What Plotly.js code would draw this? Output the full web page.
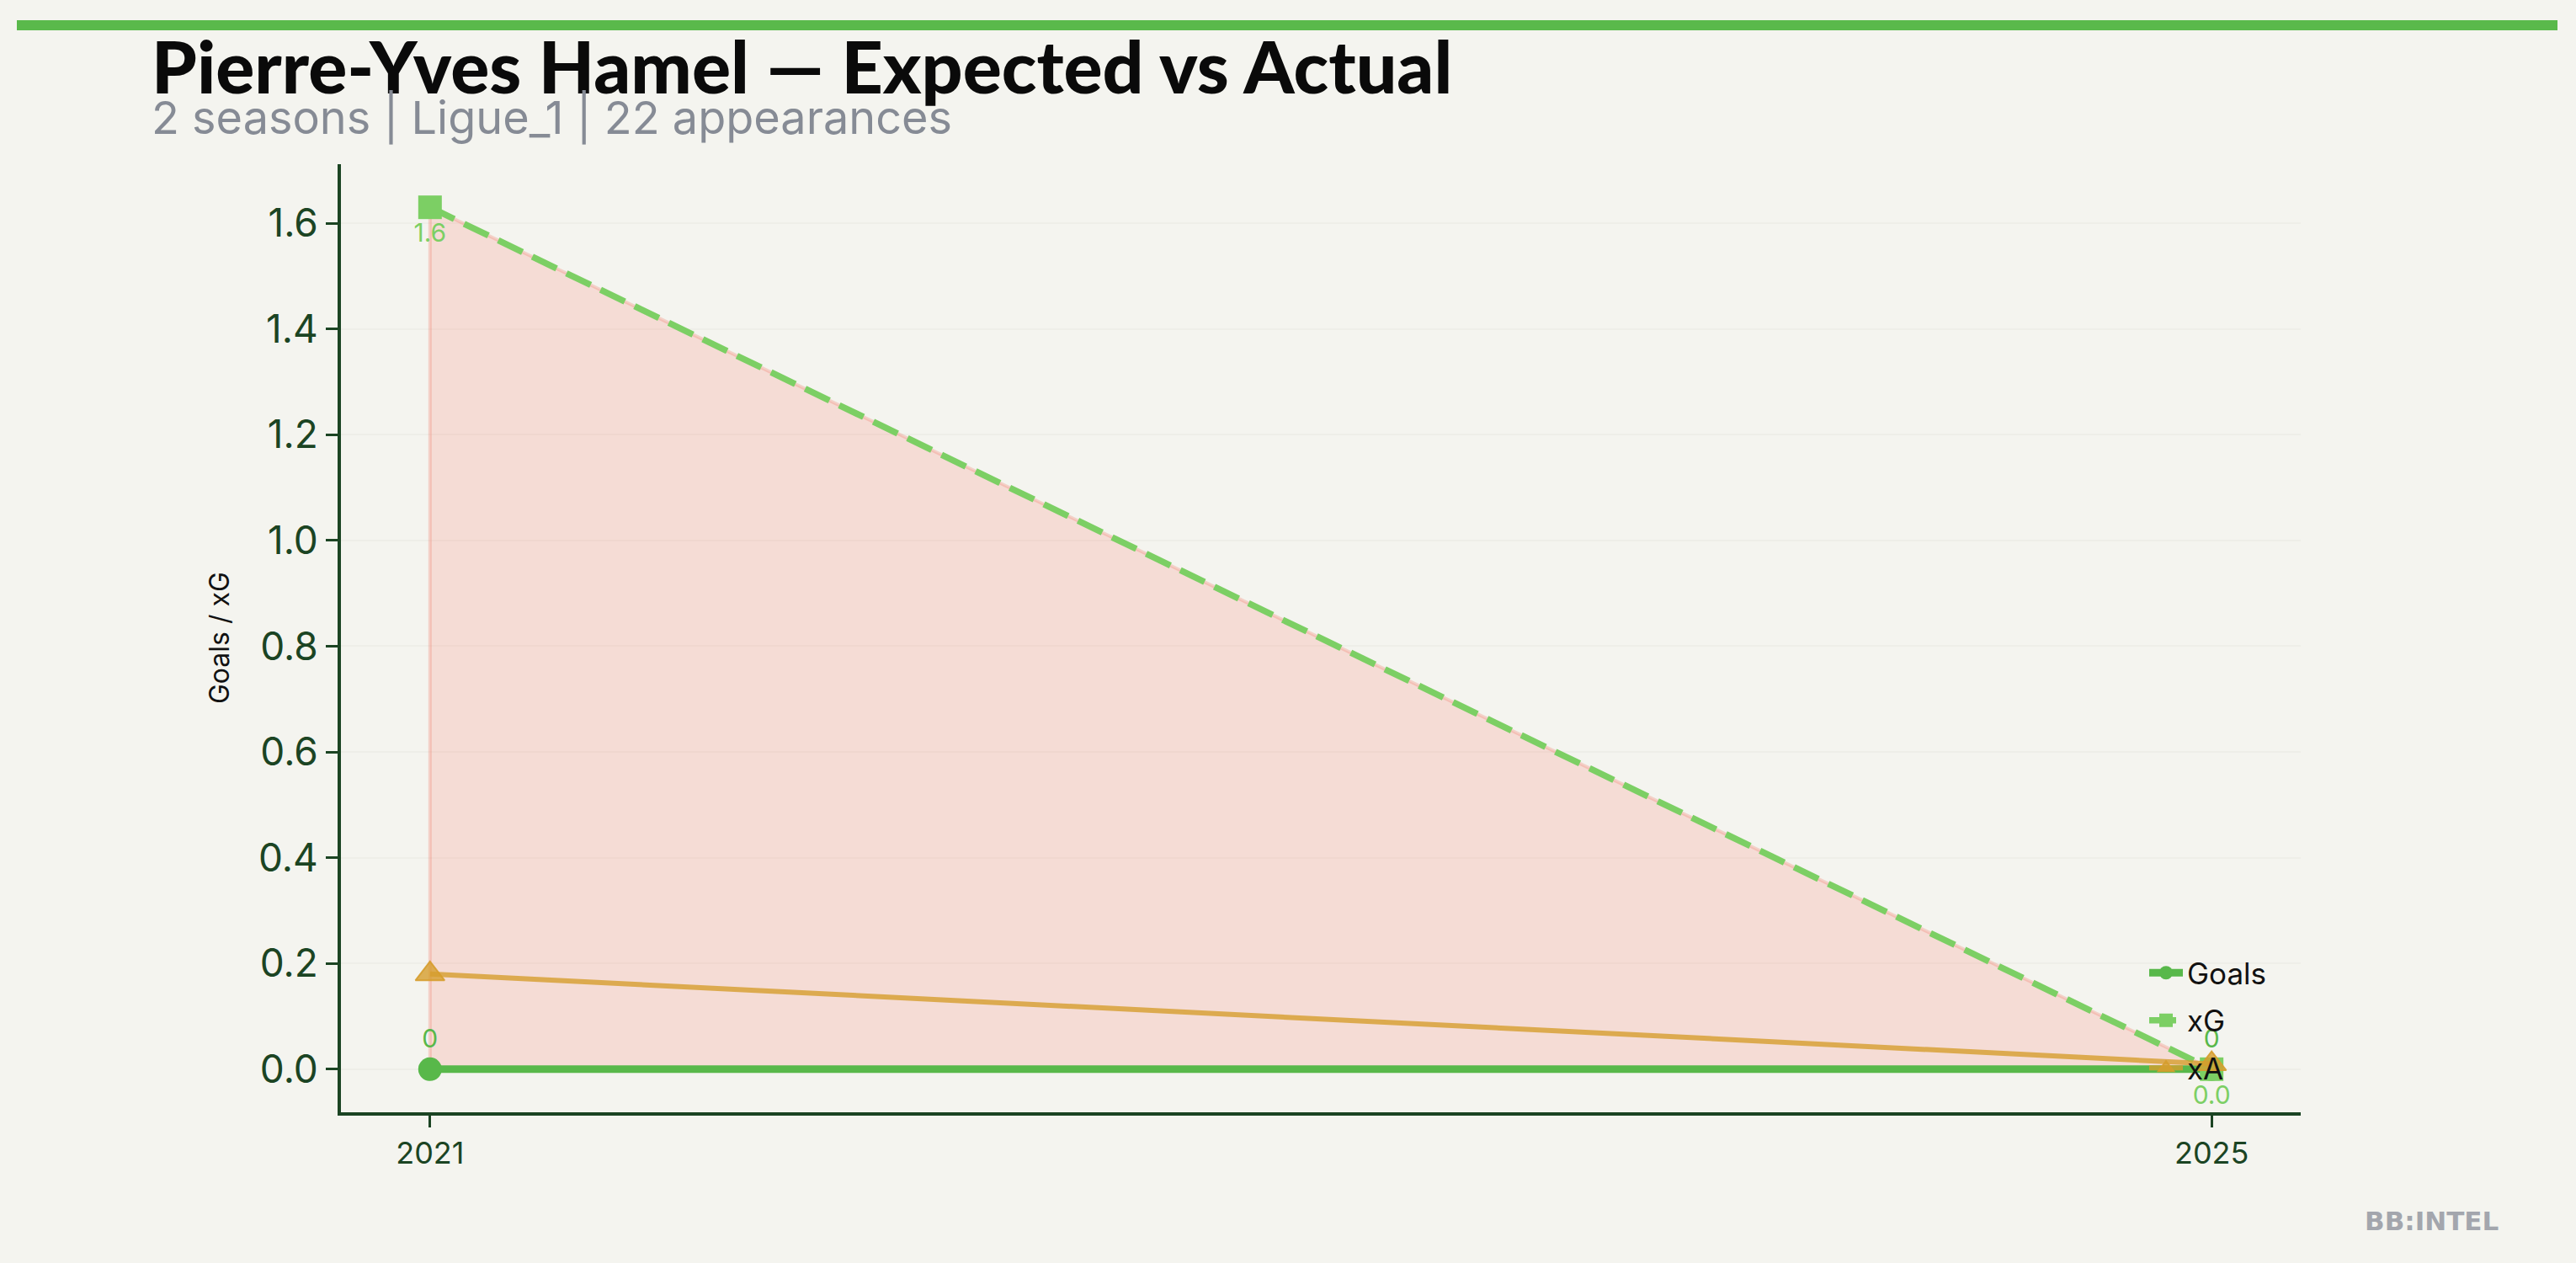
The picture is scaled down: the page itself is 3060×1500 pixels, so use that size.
<!DOCTYPE html>
<html>
<head>
<meta charset="utf-8">
<script src="https://cdn.plot.ly/plotly-3.0.1.min.js"></script>
<style>
  html, body { margin: 0; padding: 0; background: #f4f4ef; }
  #chart { width: 3060px; height: 1500px; }
</style>
</head>
<body>
<div id="chart"></div>
<script>
// ---- data ----
const seasons = [2021, 2025];
const seasonLabels = ['2021', '2025'];
const goals = [0, 0];
const xG = [1.63, 0.0];
const xA = [0.18, 0.01];
const goalsText = ['0', '0'];
const xGText = ['1.6', '0.0'];
const yTicks = [0, 0.2, 0.4, 0.6, 0.8, 1.0, 1.2, 1.4, 1.6];

const titleText = 'Pierre-Yves Hamel — Expected vs Actual';
const subtitleText = '2 seasons | Ligue_1 | 22 appearances';

// ---- geometry helpers (figure pixels -> paper fractions) ----
const W = 3060, H = 1500;
const L = 405, R = 2733, T = 195, B = 1321;
const px = v => (v - L) / (R - L);
const py = v => (B - v) / (B - T);

const axisColor = '#1b4423';
const bg = '#f4f4ef';

// fill polygon between xG and goals
const fillX = seasons.concat(seasons.slice().reverse(), [seasons[0]]);
const fillY = xG.concat(goals.slice().reverse(), [xG[0]]);

const traces = [
  {
    x: fillX, y: fillY, type: 'scatter', mode: 'lines',
    fill: 'toself', fillcolor: 'rgba(255,80,60,0.14)',
    line: {color: 'rgba(240,120,100,0.28)', width: 4},
    showlegend: false, hoverinfo: 'skip'
  },
  {
    x: seasons, y: goals, type: 'scatter', mode: 'lines+markers+text',
    name: 'Goals', legendgroup: 'g', text: goalsText, textposition: 'top center',
    textfont: {family: 'Inter', size: 30, color: '#58b84a'},
    line: {color: '#58b84a', width: 9},
    marker: {symbol: 'circle', size: 28, color: '#58b84a'}
  },
  {
    x: seasons, y: xG, type: 'scatter', mode: 'lines+markers+text',
    name: 'xG', legendgroup: 'xg', text: xGText, textposition: 'bottom center',
    textfont: {family: 'Inter', size: 30, color: '#7ccf64'},
    line: {color: '#7ccf64', width: 7.5, dash: '32px,13px'},
    marker: {symbol: 'square', size: 28, color: '#7ccf64'}
  },
  {
    x: seasons, y: xA, type: 'scatter', mode: 'lines+markers',
    name: 'xA', legendgroup: 'xa',
    line: {color: 'rgba(214,157,45,0.8)', width: 6},
    marker: {symbol: 'triangle-up', size: 30, color: 'rgba(214,157,45,0.8)',
             line: {color: 'rgba(214,157,45,0.9)', width: 2}}
  }
];

const layout = {
  width: W, height: H,
  paper_bgcolor: bg, plot_bgcolor: bg,
  margin: {l: L, r: W - R, t: T, b: H - B, pad: 0},
  showlegend: true,
  legend: {
    x: px(2548), xanchor: 'left', y: py(1126), yanchor: 'top',
    bgcolor: 'rgba(0,0,0,0)', borderwidth: 0,
    font: {family: 'Inter', size: 35, color: '#111111'},
    itemwidth: 40, tracegroupgap: 8
  },
  xaxis: {
    range: [2020.8, 2025.2],
    tickvals: seasons, ticktext: seasonLabels,
    showgrid: false, zeroline: false,
    showline: true, linecolor: axisColor, linewidth: 4,
    ticks: 'outside', ticklen: 14, tickwidth: 3, tickcolor: axisColor,
    tickfont: {family: 'Inter', size: 36, color: axisColor}
  },
  yaxis: {
    range: [-0.0815, 1.7115],
    tickvals: yTicks, tickformat: '.1f',
    showgrid: true, gridcolor: '#eeeee8', gridwidth: 2,
    zeroline: false,
    showline: true, linecolor: axisColor, linewidth: 4,
    ticks: 'outside', ticklen: 14, tickwidth: 3, tickcolor: axisColor,
    tickfont: {family: 'Inter', size: 46, color: axisColor}
  },
  shapes: [
    {type: 'rect', xref: 'paper', yref: 'paper',
     x0: px(20), x1: px(3038), y0: py(36), y1: py(24),
     fillcolor: '#5ab94b', line: {width: 0}, layer: 'above'}
  ],
  annotations: [
    {text: titleText, xref: 'paper', yref: 'paper', x: px(178), y: py(77),
     xanchor: 'left', yanchor: 'middle', showarrow: false,
     font: {family: 'Lato', size: 86, weight: 900, color: '#0a0a0a'}},
    {text: subtitleText, xref: 'paper', yref: 'paper', x: px(178), y: py(139),
     xanchor: 'left', yanchor: 'middle', showarrow: false,
     font: {family: 'Inter', size: 54, color: '#868b95'}},
    {text: 'Goals / xG', xref: 'paper', yref: 'paper', x: px(260), y: 0.5,
     xanchor: 'center', yanchor: 'middle', textangle: -90, showarrow: false,
     font: {family: 'Inter', size: 32, color: '#111111'}},
    {text: '<b>BB:INTEL</b>', xref: 'paper', yref: 'paper', x: px(2970), y: py(1450),
     xanchor: 'right', yanchor: 'middle', showarrow: false,
     font: {family: 'DejaVu Sans', size: 31, color: '#a3a6ad'}}
  ]
};

Plotly.newPlot('chart', traces, layout, {displayModeBar: false, staticPlot: true});
</script>
</body>
</html>
